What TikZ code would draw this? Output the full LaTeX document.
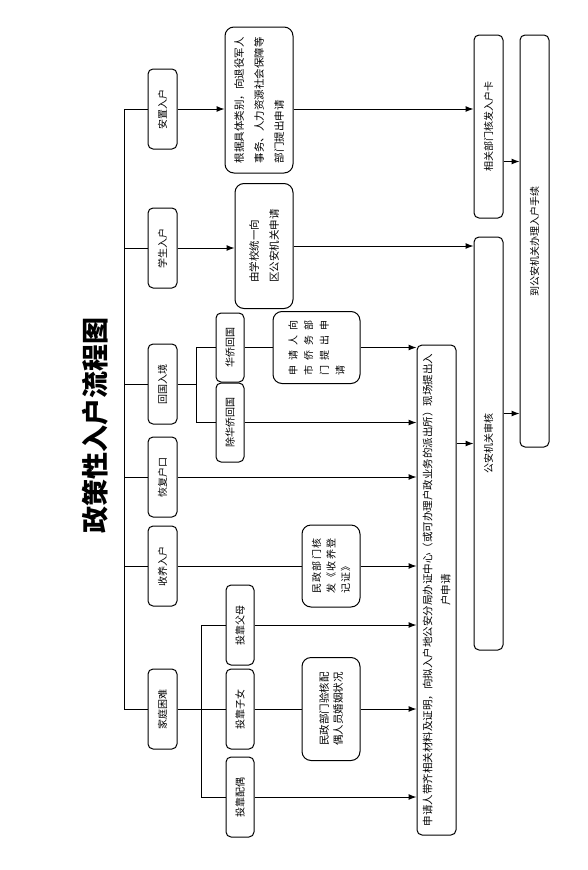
\documentclass[tikz,border=0pt]{standalone}
\usepackage{fontspec}
\newfontfamily\cjk{Noto Sans CJK SC}
\newfontfamily\cjkwide[LetterSpace=50]{Noto Sans CJK SC}
\newfontfamily\cjkmid[LetterSpace=14]{Noto Sans CJK SC}
\usetikzlibrary{arrows.meta}

\tikzset{
  catbox/.style={draw, rounded corners=5pt, rotate=90, minimum width=80pt, minimum height=29pt, inner sep=1pt},
  subbox/.style={catbox, minimum height=28pt},
  txtbox/.style={draw, rounded corners=9pt, rotate=90, inner sep=2pt, align=left},
  longbox/.style={draw, rounded corners=5pt, rotate=90, inner sep=2pt, minimum height=29pt},
  arr/.style={-{Latex[length=8pt,width=6pt]}},
}

\begin{document}
\begin{tikzpicture}[x=1pt, y=-1pt, line width=1pt, font=\cjk\fontsize{10}{12}\selectfont]
  \useasboundingbox (0,0) rectangle (588,870);

  \node[rotate=90, font=\cjk\bfseries\fontsize{27}{30}\selectfont] (title) at (95,425) {政策性入户流程图};

  % kinds of entry
  \node[catbox] (anzhi) at (162.5,109) {安置入户};
  \node[catbox] (xuesheng) at (162.5,248) {学生入户};
  \node[catbox] (huiguo) at (162.5,384) {回国入境};
  \node[catbox] (huifu) at (162.5,477) {恢复户口};
  \node[catbox] (shouyang) at (162.5,566) {收养入户};
  \node[catbox] (kunnan) at (162.5,709) {家庭困难};

  \node[subbox, minimum width=69pt] (huaqiao) at (230,347.5) {华侨回国};
  \node[subbox, minimum width=79pt] (feihuaqiao) at (230,422.5) {除华侨回国};
  \node[subbox] (fumu) at (240,625) {投靠父母};
  \node[subbox] (zinv) at (240,709) {投靠子女};
  \node[subbox] (peiou) at (240,797) {投靠配偶};

  \node[txtbox, minimum width=146pt, minimum height=68pt, font=\cjk\fontsize{10.5}{20}\selectfont] (anzhiapply) at (259,100)
    {根据具体类别，向退役军人\\事务、人力资源社会保障等\\部门提出申请};
  \node[txtbox, minimum width=125pt, minimum height=58pt, font=\cjk\fontsize{10.5}{20}\selectfont] (xuexiao) at (264,246)
    {由学校统一向\\区公安机关申请};
  \node[txtbox, minimum width=72pt, minimum height=87pt, font=\cjkwide\fontsize{10}{15.7}\selectfont] (qiaowu) at (316.5,347.5)
    {申请人向\\市侨务部\\门提出申\\请};
  \node[txtbox, minimum width=82pt, minimum height=58pt, font=\cjkmid\fontsize{10}{14.5}\selectfont] (shouyangzheng) at (331,566)
    {民政部门核\\发《收养登\\记证》};
  \node[txtbox, minimum width=103pt, minimum height=58pt, font=\cjk\fontsize{10.5}{14}\selectfont] (hunyin) at (331,709)
    {民政部门验核配\\偶人员婚姻状况};

  \node[longbox, minimum width=490pt, minimum height=39pt, align=center, font=\cjk\fontsize{10.5}{18}\selectfont] (apply) at (436.5,590)
    {申请人带齐相关材料及证明，向拟入户地公安分局办证中心（或可办理户政业务的派出所）现场提出入\\户申请};
  \node[longbox, minimum width=413pt] (shenhe) at (488.5,443.5) {公安机关审核};
  \node[longbox, minimum width=183pt] (hukouka) at (488.5,126.5) {相关部门核发入户卡};
  \node[longbox, minimum width=412pt] (banli) at (534.5,241) {到公安机关办理入户手续};

  % tree on the left
  \coordinate (trunk) at (124,0);
  \draw (anzhi.north) -| (trunk |- kunnan.north) -- (kunnan.north);
  \foreach \n in {xuesheng,huiguo,huifu,shouyang}
    \draw (\n.north) -- (\n.north -| trunk);

  \coordinate (split1) at (196,0);
  \draw (huiguo.south) -- (huiguo.south -| split1);
  \draw (huaqiao.north) -| (split1 |- feihuaqiao.north) -- (feihuaqiao.north);

  \coordinate (split2) at (201,0);
  \draw (fumu.north) -| (split2 |- peiou.north) -- (peiou.north);
  \draw (kunnan.south) -- (zinv.north);

  % to the middle boxes
  \draw[arr] (anzhi.south) -- (anzhi.south -| anzhiapply.north);
  \draw[arr] (xuesheng.south) -- (xuesheng.south -| xuexiao.north);
  \draw (huaqiao.south) -- (huaqiao.south -| qiaowu.north);
  \draw (shouyang.south) -- (shouyang.south -| shouyangzheng.north);
  \draw (zinv.south) -- (zinv.south -| hunyin.north);

  % into the application box
  \foreach \n in {qiaowu,feihuaqiao,huifu,shouyangzheng,fumu,hunyin,peiou}
    \draw[arr] (\n.south) -- (\n.south -| apply.north);

  % right side
  \draw[arr] (anzhiapply.south |- anzhi.south) -- (hukouka.north |- anzhi.south);
  \draw[arr] (xuexiao.south) -- (xuexiao.south -| shenhe.north);
  \draw[arr] (apply.south |- shenhe.north) -- (shenhe.north);
  \draw[arr] (hukouka.south) ++(0,35) coordinate (k1) -- (k1 -| banli.north);
  \draw[arr] (shenhe.south) ++(0,-30) coordinate (k2) -- (k2 -| banli.north);
\end{tikzpicture}
\end{document}
